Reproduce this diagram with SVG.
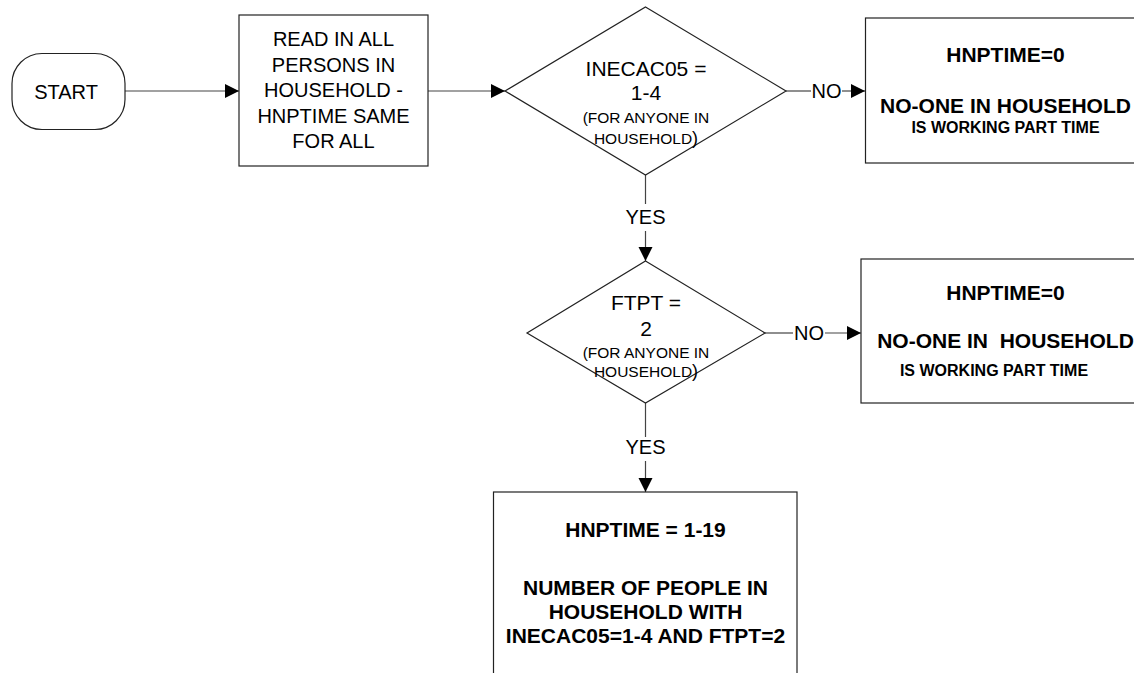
<svg xmlns="http://www.w3.org/2000/svg" width="1134" height="673" viewBox="0 0 1134 673">
<defs>
<style>
.shape{fill:#fff;stroke:#222;stroke-width:1.2}
.conn{fill:none;stroke:#444;stroke-width:1.2}
text{font-family:"Liberation Sans",Arial,sans-serif;fill:#000}
.t20{font-size:20px;text-anchor:middle}
.t21{font-size:21px;text-anchor:middle}
.s15{font-size:15.5px;text-anchor:middle}
.p18{font-size:18px}
.b21{font-size:21px;font-weight:bold;text-anchor:middle}
.b16{font-size:16px;font-weight:bold;text-anchor:middle}
</style>
<marker id="arr" markerUnits="userSpaceOnUse" markerWidth="16" markerHeight="16" viewBox="0 0 16 16" refX="15" refY="8" orient="auto">
<path d="M1,1 L15,8 L1,15 Z" fill="#000"/>
</marker>
</defs>
<rect width="1134" height="673" fill="#fff"/>
<g id="connectors">
<line class="conn" x1="125" y1="91" x2="239" y2="91" marker-end="url(#arr)"/>
<line class="conn" x1="428" y1="91" x2="505" y2="91" marker-end="url(#arr)"/>
<line class="conn" x1="786" y1="91" x2="811" y2="91"/>
<text class="t20" x="826.5" y="98">NO</text>
<line class="conn" x1="842" y1="91" x2="865" y2="91" marker-end="url(#arr)"/>
<line class="conn" x1="645.5" y1="175" x2="645.5" y2="204"/>
<text class="t20" x="645.5" y="224">YES</text>
<line class="conn" x1="645.5" y1="231" x2="645.5" y2="261" marker-end="url(#arr)"/>
<line class="conn" x1="765" y1="333" x2="793" y2="333"/>
<text class="t20" x="809" y="340">NO</text>
<line class="conn" x1="825" y1="333" x2="861" y2="333" marker-end="url(#arr)"/>
<line class="conn" x1="645.5" y1="403" x2="645.5" y2="437"/>
<text class="t20" x="645.5" y="454">YES</text>
<line class="conn" x1="645.5" y1="461" x2="645.5" y2="492" marker-end="url(#arr)"/>
</g>
<g id="start">
<rect class="shape" x="12" y="53.5" width="113" height="76" rx="30" ry="30"/>
<text class="t20" x="66" y="98.5">START</text>
</g>
<g id="read">
<rect class="shape" x="239" y="15" width="189" height="151"/>
<text class="t20" x="333.5" y="46">READ IN ALL</text>
<text class="t20" x="333.5" y="72">PERSONS IN</text>
<text class="t20" x="333.5" y="97">HOUSEHOLD -</text>
<text class="t20" x="333.5" y="123">HNPTIME SAME</text>
<text class="t20" x="333.5" y="148">FOR ALL</text>
</g>
<g id="decision1">
<polygon class="shape" points="645.5,7 786,91 645.5,175 505,91"/>
<text class="t21" x="646" y="76">INECAC05 =</text>
<text class="t21" x="646" y="100">1-4</text>
<text class="s15" x="646" y="123">(FOR ANYONE IN</text>
<text class="s15" x="646" y="144">HOUSEHOLD<tspan class="p18">)</tspan></text>
</g>
<g id="result1">
<rect class="shape" x="865.5" y="18" width="290" height="145"/>
<text class="b21" x="1005.5" y="62">HNPTIME=0</text>
<text class="b21" x="1005.5" y="113">NO-ONE IN HOUSEHOLD</text>
<text class="b16" x="1005.5" y="133">IS WORKING PART TIME</text>
</g>
<g id="decision2">
<polygon class="shape" points="645.5,261 765,333 645.5,403 527,333"/>
<text class="t21" x="646" y="310">FTPT =</text>
<text class="t21" x="646" y="336">2</text>
<text class="s15" x="646" y="358">(FOR ANYONE IN</text>
<text class="s15" x="646" y="377">HOUSEHOLD<tspan class="p18">)</tspan></text>
</g>
<g id="result2">
<rect class="shape" x="861" y="259" width="295" height="144"/>
<text class="b21" x="1005.5" y="300">HNPTIME=0</text>
<text class="b21" x="1005.5" y="348" xml:space="preserve">NO-ONE IN  HOUSEHOLD</text>
<text class="b16" x="994" y="376">IS WORKING PART TIME</text>
</g>
<g id="result3">
<rect class="shape" x="493.5" y="492" width="303.5" height="200"/>
<text class="b21" x="645.5" y="537">HNPTIME = 1-19</text>
<text class="b21" x="645.5" y="595">NUMBER OF PEOPLE IN</text>
<text class="b21" x="645.5" y="619">HOUSEHOLD WITH</text>
<text class="b21" x="645.5" y="643">INECAC05=1-4 AND FTPT=2</text>
</g>
</svg>
